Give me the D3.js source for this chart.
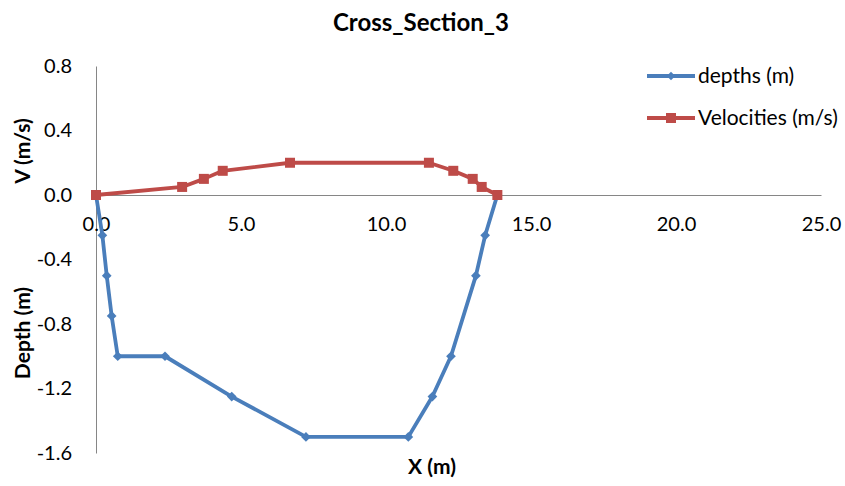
<!DOCTYPE html>
<html>
<head>
<meta charset="utf-8">
<script src="https://cdn.jsdelivr.net/npm/d3@7"></script>
<style>
  html, body { margin: 0; padding: 0; background: #fff; }
  svg { display: block; font-family: Lato, "Open Sans", sans-serif; }
</style>
</head>
<body>
<svg id="chart" width="845" height="486"></svg>
<script>
// Cross-section geometry: station (m) vs bed depth (m)
const depthX = [0, 0.22, 0.37, 0.54, 0.75, 2.38, 4.68, 7.24, 10.77, 11.6, 12.24, 13.1, 13.42, 13.84];
const depthY = [0, -0.25, -0.5, -0.75, -1.0, -1.0, -1.25, -1.5, -1.5, -1.25, -1.0, -0.5, -0.25, 0];

// Measured velocities across the section (m/s)
const velX = [0, 2.97, 3.72, 4.37, 6.69, 11.48, 12.32, 12.99, 13.3, 13.84];
const velY = [0, 0.05, 0.1, 0.15, 0.2, 0.2, 0.15, 0.1, 0.05, 0];

const xTicks = [0, 5, 10, 15, 20, 25];
const yTicks = [0.8, 0.4, 0.0, -0.4, -0.8, -1.2, -1.6];

const seriesNames = ["depths (m)", "Velocities (m/s)"];
const colors = ["#4A7EBB", "#BE4B48"];

const FONT = "Lato, 'Open Sans', sans-serif";
const svg = d3.select("#chart");

// One-decimal labels with a plain hyphen for negatives
const fmt = d3.formatLocale({ decimal: ".", thousands: ",", grouping: [3], currency: ["", ""], minus: "-" }).format(".1f");

const x = d3.scaleLinear().domain([0, 25]).range([96, 821]);
const y = d3.scaleLinear().domain([-1.6, 0.8]).range([453, 66]);

// Title
svg.append("text")
  .attr("x", 421).attr("y", 31)
  .attr("text-anchor", "middle")
  .attr("font-size", 24).attr("font-weight", "bold")
  .attr("fill", "#000")
  .text("Cross_Section_3");

// Axes (no tick marks, labels only)
const axisColor = "#868686";
const yAxis = svg.append("g")
  .attr("transform", `translate(${x(0)},0)`)
  .call(d3.axisLeft(y).tickValues(yTicks).tickSize(0).tickPadding(24).tickFormat(fmt));
yAxis.select(".domain").attr("stroke", axisColor);
yAxis.selectAll("text").attr("font-size", 20).attr("fill", "#000").attr("font-family", FONT);

const xAxis = svg.append("g")
  .attr("transform", `translate(0,${y(0)})`)
  .call(d3.axisBottom(x).tickValues(xTicks).tickSize(0).tickPadding(22).tickFormat(fmt));
xAxis.select(".domain").attr("stroke", axisColor);
xAxis.selectAll("text").attr("font-size", 20).attr("fill", "#000").attr("font-family", FONT);

// Axis titles
svg.append("text")
  .attr("transform", `translate(30,151) rotate(-90)`)
  .attr("text-anchor", "middle")
  .attr("font-size", 21).attr("font-weight", "bold")
  .text("V (m/s)");
svg.append("text")
  .attr("transform", `translate(30,333) rotate(-90)`)
  .attr("text-anchor", "middle")
  .attr("font-size", 21).attr("font-weight", "bold")
  .text("Depth (m)");
svg.append("text")
  .attr("x", 432).attr("y", 474)
  .attr("text-anchor", "middle")
  .attr("font-size", 21).attr("font-weight", "bold")
  .text("X (m)");

const line = d3.line().x(d => x(d[0])).y(d => y(d[1]));

const depthPts = depthX.map((v, i) => [v, depthY[i]]);
const velPts = velX.map((v, i) => [v, velY[i]]);

// Depth profile
svg.append("path").datum(depthPts)
  .attr("d", line).attr("fill", "none")
  .attr("stroke", colors[0]).attr("stroke-width", 3.8).attr("stroke-linejoin", "round");
svg.append("g").selectAll("path").data(depthPts).join("path")
  .attr("transform", d => `translate(${x(d[0])},${y(d[1])})`)
  .attr("d", d3.symbol(d3.symbolDiamond2, 60)())
  .attr("fill", colors[0]);

// Velocity profile
svg.append("path").datum(velPts)
  .attr("d", line).attr("fill", "none")
  .attr("stroke", colors[1]).attr("stroke-width", 3.8).attr("stroke-linejoin", "round");
svg.append("g").selectAll("rect").data(velPts).join("rect")
  .attr("x", d => x(d[0]) - 5).attr("y", d => y(d[1]) - 5)
  .attr("width", 10).attr("height", 10)
  .attr("fill", colors[1]);

// Legend
const legend = svg.append("g");
seriesNames.forEach((name, i) => {
  const ly = 76 + i * 42;
  legend.append("line")
    .attr("x1", 647).attr("x2", 695).attr("y1", ly).attr("y2", ly)
    .attr("stroke", colors[i]).attr("stroke-width", 3.8);
  if (i === 0) {
    legend.append("path")
      .attr("transform", `translate(671,${ly})`)
      .attr("d", d3.symbol(d3.symbolDiamond2, 45)())
      .attr("fill", colors[i]);
  } else {
    legend.append("rect")
      .attr("x", 666).attr("y", ly - 5).attr("width", 10).attr("height", 10)
      .attr("fill", colors[i]);
  }
  legend.append("text")
    .attr("x", 698).attr("y", ly + 7)
    .attr("font-size", 21).attr("fill", "#000")
    .text(name);
});
</script>
</body>
</html>
